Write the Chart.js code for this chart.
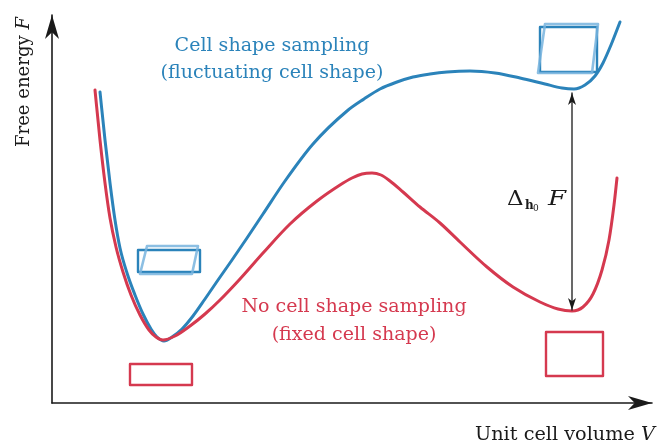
<!DOCTYPE html>
<html>
<head>
<meta charset="utf-8">
<script src="https://cdn.jsdelivr.net/npm/chart.js@4/dist/chart.umd.min.js"></script>
<style>
html,body{margin:0;padding:0;background:#fff;}
#wrap{width:658px;height:444px;position:relative;}
</style>
</head>
<body>
<div id="wrap"><canvas id="c"></canvas></div>
<script>
// Schematic free-energy curves (arbitrary units): V = unit cell volume, F = free energy
const blueV = [4.8,5.3,5.8,6.3,6.8,7.5,8.3,9.1,9.9,10.5,11.2,12.0,13.0,14.1,15.3,16.6,18.0,19.5,21.1,23.3,26.1,29.5,31.2,32.8,34.5,36.1,37.8,39.5,41.8,44.3,46.8,49.3,51.0,52.2,53.3,54.3,55.1,55.9,56.8];
const blueF = [31.1,26.3,22.0,18.3,15.5,13.0,10.8,8.9,7.4,6.6,6.2,6.6,7.4,8.7,10.4,12.3,14.3,16.5,18.9,22.2,25.9,29.2,30.4,31.4,32.1,32.6,32.9,33.1,33.2,33.0,32.5,31.9,31.5,31.4,31.8,32.7,34.0,35.8,38.1];
const redV = [4.3,4.8,5.3,5.8,6.4,7.1,7.9,8.8,9.7,10.4,11.1,12.3,13.8,15.3,16.8,18.8,21.1,23.8,26.5,28.8,30.0,31.0,32.0,32.9,33.8,35.1,36.8,38.8,40.8,43.5,46.1,48.8,50.6,52.0,53.1,54.1,55.0,55.7,56.2,56.5];
const redF = [31.3,26.3,22.0,18.5,15.6,13.1,10.8,8.8,7.3,6.6,6.3,6.7,7.7,8.9,10.3,12.4,15.0,17.9,20.2,21.8,22.5,22.9,23.0,22.8,22.2,21.1,19.6,18.0,16.1,13.6,11.6,10.1,9.4,9.2,9.6,10.9,13.3,16.3,19.8,22.5];

// Cell-shape icons (closed outlines)
const leftCellV = [8.6,14.8,14.8,8.6,8.6];
const leftCellF = [15.3,15.3,13.1,13.1,15.3];
const leftCellShearV = [9.5,14.6,14.0,8.8,9.5];
const leftCellShearF = [15.7,15.7,12.9,12.9,15.7];
const rightCellV = [48.8,54.5,54.5,48.8,48.8];
const rightCellF = [37.6,37.6,33.1,33.1,37.6];
const rightCellShearV = [49.3,54.6,54.0,48.6,49.3];
const rightCellShearF = [37.9,37.9,33.0,33.0,37.9];
const leftFixedV = [7.8,14.0,14.0,7.8,7.8];
const leftFixedF = [3.9,3.9,1.8,1.8,3.9];
const rightFixedV = [49.4,55.1,55.1,49.4,49.4];
const rightFixedF = [7.1,7.1,2.7,2.7,7.1];

// Axes and the Delta F marker
const axisXV = [0, 60];   const axisXF = [0, 0];
const axisYV = [0, 0];    const axisYF = [0, 38.8];
const deltaV = [52.0, 52.0]; const deltaF = [31.0, 9.3];

const xMin = 0, xMax = 60, yMin = 0, yMax = 38.8;

const BLUE = '#2b83ba', RED = '#d5394f', LIGHT = 'rgba(120,180,222,0.85)', INK = '#1a1a1a';

function pts(vs, fs){ return vs.map((v,i)=>({x:v, y:fs[i]})); }
function ds(vs, fs, color, width, curve){
  return {data: pts(vs,fs), borderColor: color, borderWidth: width, pointRadius: 0,
    fill: false, clip: false, tension: curve ? 0.4 : 0,
    cubicInterpolationMode: curve ? 'monotone' : 'default',
    borderJoinStyle: 'round', borderCapStyle: 'round'};
}

const SERIF = '"DejaVu Serif", serif';

function fitFont(ctx, text, target, style, family){
  ctx.font = style + ' 20px ' + family;
  const w = ctx.measureText(text).width;
  return 20 * target / w;
}

function arrowHead(ctx, tx, ty, dx, dy, L, W){
  const nx = -dy, ny = dx;
  ctx.beginPath();
  ctx.moveTo(tx, ty);
  ctx.lineTo(tx - L*dx + W*nx, ty - L*dy + W*ny);
  ctx.lineTo(tx - 0.72*L*dx, ty - 0.72*L*dy);
  ctx.lineTo(tx - L*dx - W*nx, ty - L*dy - W*ny);
  ctx.closePath();
  ctx.fill();
}

const decor = {
  id: 'decor',
  afterDatasetsDraw(chart){
    const ctx = chart.ctx, sx = chart.scales.x, sy = chart.scales.y;
    ctx.save();
    ctx.fillStyle = INK;
    // axis arrowheads
    arrowHead(ctx, sx.getPixelForValue(axisXV[1]), sy.getPixelForValue(axisXF[1]), 1, 0, 24, 7);
    arrowHead(ctx, sx.getPixelForValue(axisYV[1]), sy.getPixelForValue(axisYF[1]), 0, -1, 24, 7);
    // delta arrowheads
    const ax = sx.getPixelForValue(deltaV[0]);
    arrowHead(ctx, ax, sy.getPixelForValue(deltaF[0]), 0, -1, 12, 4);
    arrowHead(ctx, ax, sy.getPixelForValue(deltaF[1]), 0, 1, 12, 4);

    // labels
    const size = fitFont(ctx, 'Cell shape sampling', 195, '', SERIF);
    ctx.textAlign = 'center'; ctx.textBaseline = 'alphabetic';
    ctx.font = size.toFixed(2) + 'px ' + SERIF;
    ctx.fillStyle = BLUE;
    ctx.fillText('Cell shape sampling', 272, 51);
    ctx.fillText('(fluctuating cell shape)', 272, 78);
    ctx.fillStyle = RED;
    ctx.fillText('No cell shape sampling', 354, 312);
    ctx.fillText('(fixed cell shape)', 354, 340);

    // Delta_{h0} F
    ctx.fillStyle = INK;
    ctx.textAlign = 'left';
    ctx.save();
    ctx.translate(507, 205);
    ctx.scale(1.15, 1);
    ctx.font = '20px ' + SERIF;
    ctx.fillText('\u0394', 0, 0);
    ctx.restore();
    ctx.font = 'bold 12px ' + SERIF;
    ctx.fillText('h', 525, 209);
    ctx.font = '9px ' + SERIF;
    ctx.fillText('0', 533, 211);
    ctx.save();
    ctx.translate(548, 205);
    ctx.scale(1.3, 1);
    ctx.font = 'italic 20px ' + SERIF;
    ctx.fillText('F', 0, 0);
    ctx.restore();

    // axis titles
    const xs = fitFont(ctx, 'Unit cell volume V', 180, '', SERIF);
    ctx.font = xs.toFixed(2) + 'px ' + SERIF;
    ctx.textAlign = 'left';
    ctx.fillText('Unit cell volume ', 475, 440);
    const w1 = ctx.measureText('Unit cell volume ').width;
    ctx.font = 'italic ' + xs.toFixed(2) + 'px ' + SERIF;
    ctx.fillText('V', 475 + w1, 440);

    ctx.save();
    ctx.translate(29, 82);
    ctx.rotate(-Math.PI/2);
    const ys = fitFont(ctx, 'Free energy F', 130, '', SERIF);
    ctx.font = ys.toFixed(2) + 'px ' + SERIF;
    const a = 'Free energy ';
    const wa = ctx.measureText(a).width;
    ctx.font = 'italic ' + ys.toFixed(2) + 'px ' + SERIF;
    const wb = ctx.measureText('F').width;
    const start = -(wa + wb)/2;
    ctx.font = ys.toFixed(2) + 'px ' + SERIF;
    ctx.fillText(a, start, 0);
    ctx.font = 'italic ' + ys.toFixed(2) + 'px ' + SERIF;
    ctx.fillText('F', start + wa, 0);
    ctx.restore();

    ctx.restore();
  }
};

new Chart(document.getElementById('c'), {
  type: 'line',
  data: {
    datasets: [
      ds(axisXV, axisXF, INK, 1.6, false),
      ds(axisYV, axisYF, INK, 1.6, false),
      ds(deltaV, deltaF, INK, 1.3, false),
      ds(leftCellShearV, leftCellShearF, LIGHT, 2.6, false),
      ds(leftCellV, leftCellF, BLUE, 2.4, false),
      ds(rightCellShearV, rightCellShearF, LIGHT, 2.6, false),
      ds(rightCellV, rightCellF, BLUE, 2.4, false),
      ds(leftFixedV, leftFixedF, RED, 2.4, false),
      ds(rightFixedV, rightFixedF, RED, 2.4, false),
      ds(redV, redF, RED, 3, true),
      ds(blueV, blueF, BLUE, 3, true)
    ]
  },
  options: {
    responsive: true,
    maintainAspectRatio: false,
    animation: false,
    events: [],
    layout: {padding: {left: 52, right: 6, top: 15, bottom: 41}},
    plugins: {legend: {display: false}, tooltip: {enabled: false}, title: {display: false}},
    scales: {
      x: {type: 'linear', min: xMin, max: xMax, display: false},
      y: {type: 'linear', min: yMin, max: yMax, display: false}
    }
  },
  plugins: [decor]
});
</script>
</body>
</html>
